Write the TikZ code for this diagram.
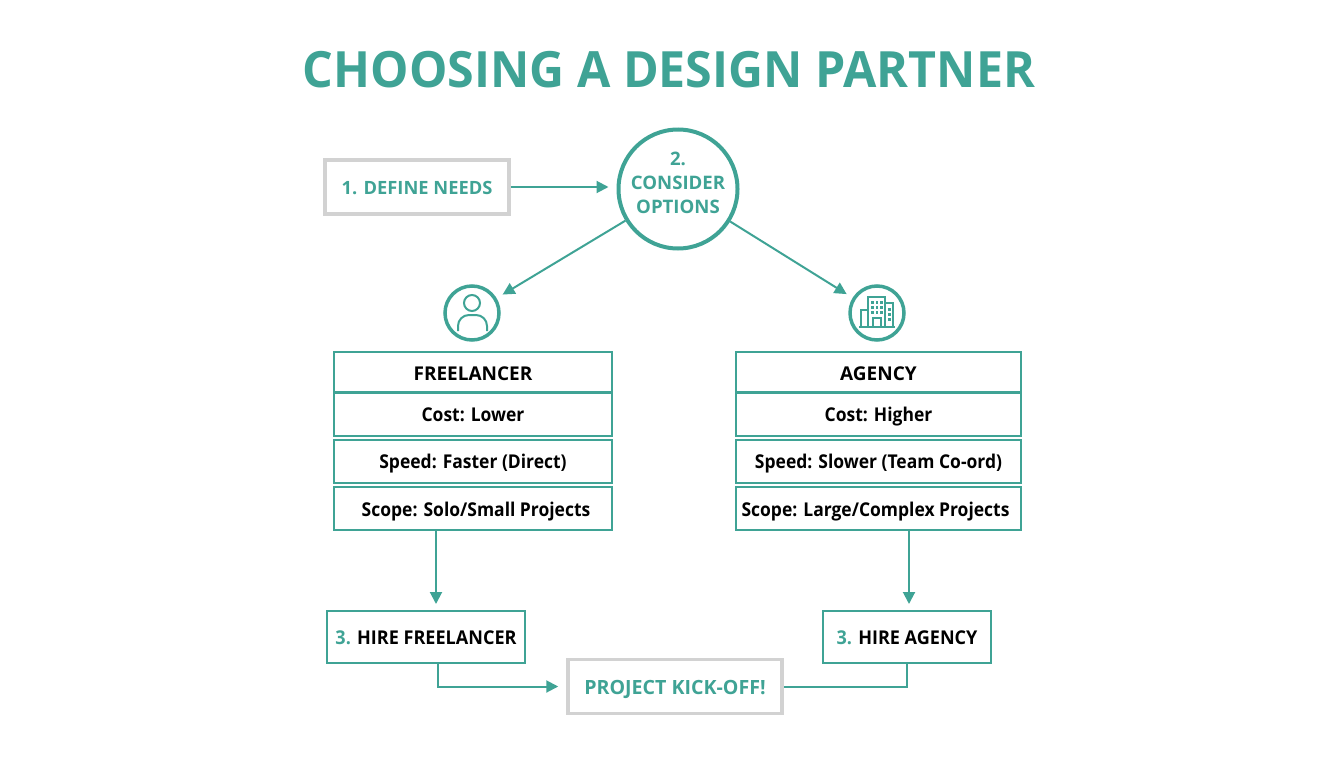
\documentclass[tikz,border=0pt]{standalone}
\usepackage{fontspec}
\setmainfont{Open Sans}
\newfontfamily\headfont[FakeStretch=0.967]{Open Sans}
\newfontfamily\rowfont[FakeStretch=0.92]{Open Sans}
\newfontfamily\hirefont[FakeStretch=0.95]{Open Sans}
\usetikzlibrary{arrows.meta}
\definecolor{partnerteal}{HTML}{3FA395}
\definecolor{partnergray}{HTML}{D2D2D2}
\tikzset{
  tealbox/.style={draw=partnerteal, line width=2pt, fill=white, align=center, inner sep=0pt, text height=18pt, text depth=2.4pt, font=\fontsize{19}{23}\selectfont\bfseries, text=black},
  headbox/.style={tealbox, text height=20pt},
  rowbox/.style={tealbox, font=\rowfont\fontsize{19}{23}\selectfont\bfseries},
  hirebox/.style={tealbox, font=\hirefont\fontsize{19}{23}\selectfont\bfseries},
  graybox/.style={draw=partnergray, line width=3.5pt, fill=white, align=center, inner sep=0pt, text height=18pt, text depth=2.4pt, text=partnerteal},
  arrowline/.style={draw=partnerteal, line width=2pt, -{Triangle[length=12pt,width=12pt]}},
  plainline/.style={draw=partnerteal, line width=2pt},
  iconline/.style={draw=partnerteal, line width=2pt},
  iconring/.style={circle, draw=partnerteal, line width=3.5pt, minimum size=54pt, inner sep=0pt}
}
\begin{document}
\begin{tikzpicture}[x=1pt, y=-1pt]
  \useasboundingbox (0, 0) rectangle (1344, 768);
  \node[text=partnerteal, font=\headfont\fontsize{50}{60}\selectfont\bfseries] (heading) at (669, 70) {CHOOSING A DESIGN PARTNER};
  % top row
  \node[graybox, minimum width=184pt, minimum height=54pt, font=\fontsize{18.3}{23}\selectfont\bfseries] (define) at (417, 187) {1. DEFINE NEEDS};
  \node[circle, draw=partnerteal, line width=4pt, fill=white, minimum size=119pt, inner sep=0pt] (consider) at (678, 189) {};
  \node[align=center, inner sep=0pt, text=partnerteal, font=\fontsize{18.6}{24}\selectfont\bfseries] (considertext) at (678, 183) {2.\\CONSIDER\\OPTIONS};
  \node[iconring] (personicon) at (472, 313) {};
  \node[iconring] (buildingicon) at (877, 313) {};
  % freelancer table
  \node[headbox, minimum width=278pt, minimum height=40pt] (freehead) at (473, 372) {FREELANCER};
  \node[rowbox, minimum width=278pt, minimum height=43pt] (freecost) at (473, 414) {Cost: Lower};
  \node[rowbox, minimum width=278pt, minimum height=43pt] (freespeed) at (473, 461) {Speed: Faster (Direct)};
  \node[rowbox, minimum width=278pt, minimum height=43pt] (freescope) at (473, 508.5) {\hspace*{6pt}Scope: Solo/Small Projects};
  % agency table
  \node[headbox, minimum width=285pt, minimum height=40pt] (agencyhead) at (878.5, 372) {AGENCY};
  \node[rowbox, minimum width=285pt, minimum height=43pt] (agencycost) at (878.5, 414) {Cost: Higher};
  \node[rowbox, minimum width=285pt, minimum height=43pt] (agencyspeed) at (878.5, 461) {Speed: Slower (Team Co-ord)};
  \node[rowbox, minimum width=285pt, minimum height=43pt] (agencyscope) at (878.5, 508.5) {Scope: Large/Complex Projects\hspace*{6pt}};
  % bottom row
  \node[hirebox, minimum width=198pt, minimum height=52pt] (freehire) at (426, 637) {\textcolor{partnerteal}{3.} HIRE FREELANCER};
  \node[hirebox, minimum width=168pt, minimum height=52pt] (agencyhire) at (907, 637) {\textcolor{partnerteal}{3.} HIRE AGENCY};
  \node[graybox, minimum width=214pt, minimum height=54pt, font=\fontsize{19.6}{23}\selectfont\bfseries] (kickoff) at (675, 686.5) {PROJECT KICK-OFF!};
  % connectors
  \draw[arrowline, shorten >=8pt] (define.east) -- (define.east -| consider.west);
  \draw[arrowline, shorten >=7pt] (consider) -- (personicon);
  \draw[arrowline, shorten >=7pt] (consider) -- (buildingicon);
  \draw[arrowline, shorten >=6pt] ([xshift=-37pt]freescope.south) -- ([xshift=10pt]freehire.north);
  \draw[arrowline, shorten >=6pt] ([xshift=30.5pt]agencyscope.south) -- ([xshift=2pt]agencyhire.north);
  \draw[arrowline, shorten >=8pt] ([xshift=12pt]freehire.south) |- (kickoff.west);
  \draw[plainline] (agencyhire.south) |- (kickoff.east);
  % person icon
  \draw[iconline] (472, 303) circle [radius=8];
  \draw[iconline] (458, 331) -- (458, 326) arc(180:270:11) -- (476, 315) arc(270:360:11) -- (487, 331);
  % building icon
  \draw[iconline, line width=1.6pt] (859, 327) -- (895, 327);
  \draw[iconline, line width=1.6pt] (868, 327) -- (868, 297) -- (885, 297) -- (885, 327);
  \draw[iconline, line width=1.6pt] (868, 310) -- (861, 310) -- (861, 327);
  \draw[iconline, line width=1.6pt] (885, 303) -- (893, 303) -- (893, 327);
  \draw[iconline, line width=1.6pt] (873, 327) -- (873, 318) -- (881, 318) -- (881, 327);
  \foreach \wx in {871, 875.5, 880} {
    \foreach \wy in {301, 306, 311} {
      \fill[partnerteal] (\wx, \wy) rectangle +(2.6, 2.6);
    }
  }
  \foreach \wy in {308, 313, 318} {
    \fill[partnerteal] (887.5, \wy) rectangle +(3, 2.6);
  }
\end{tikzpicture}
\end{document}
